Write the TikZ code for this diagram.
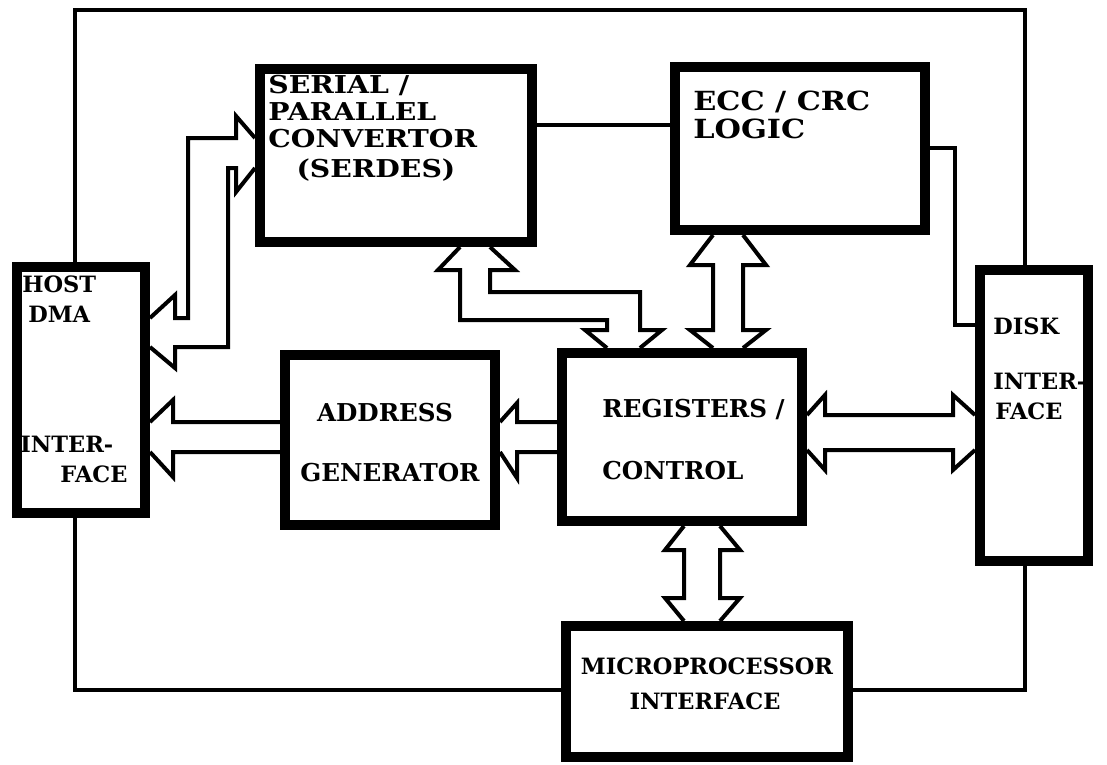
\documentclass[tikz,border=0pt]{standalone}
\usepackage{fontspec}
\setmainfont{DejaVu Serif}
\newfontfamily\wideserif{DejaVu Serif}[FakeStretch=1.15]

\begin{document}
\begin{tikzpicture}[x=0.02cm, y=-0.02cm,
  box/.style={draw, line width=0.2cm, inner sep=0pt},
  wire/.style={line width=0.08cm},
  bus/.style={line width=0.08cm},
  txt/.style={inner sep=0pt, anchor=base west},
  txtS/.style={txt, font=\bfseries\fontsize{12.8}{14}\selectfont},
  txtM/.style={txt, font=\bfseries\fontsize{14}{16}\selectfont},
  txtW/.style={txt, font=\wideserif\bfseries\fontsize{14}{16}\selectfont}]
\useasboundingbox (0,0) rectangle (1107,765);

\node[box, minimum width=2.56cm, minimum height=4.92cm] (host) at (81,390) {};
\node[box, minimum width=5.44cm, minimum height=3.46cm] (serdes) at (396,155.5) {};
\node[box, minimum width=5.00cm, minimum height=3.26cm] (ecc) at (800,148.5) {};
\node[box, minimum width=4.20cm, minimum height=3.40cm] (addr) at (390,440) {};
\node[box, minimum width=4.80cm, minimum height=3.36cm] (reg) at (682,437) {};
\node[box, minimum width=2.16cm, minimum height=5.82cm] (disk) at (1034,415.5) {};
\node[box, minimum width=5.64cm, minimum height=2.62cm] (micro) at (707,691.5) {};

\node[txtS] (host1) at (22,292) {HOST};
\node[txtS] (host2) at (28,322) {DMA};
\node[txtS] (host3) at (20,452) {INTER-};
\node[txtS] (host4) at (60,482) {FACE};
\node[txtW] (serdes1) at (268,93) {SERIAL /};
\node[txtW] (serdes2) at (268,120) {PARALLEL};
\node[txtW] (serdes3) at (268,147) {CONVERTOR};
\node[txtW, anchor=base] (serdes4) at (376,177) {(SERDES)};
\node[txtW, font=\wideserif\bfseries\fontsize{15}{17}\selectfont] (ecc1) at (693,110) {ECC / CRC};
\node[txtW, font=\wideserif\bfseries\fontsize{15}{17}\selectfont] (ecc2) at (693,138) {LOGIC};
\node[txtM, anchor=base] (addr1) at (385,421) {ADDRESS};
\node[txtM, anchor=base] (addr2) at (390,481) {GENERATOR};
\node[txtM] (reg1) at (602,417) {REGISTERS /};
\node[txtM] (reg2) at (602,479) {CONTROL};
\node[txtS] (disk1) at (993,334) {DISK};
\node[txtS] (disk2) at (993,389) {INTER-};
\node[txtS] (disk3) at (995,419) {FACE};
\node[txtS, anchor=base] (micro1) at (707,674) {MICROPROCESSOR};
\node[txtS, anchor=base] (micro2) at (705,709) {INTERFACE};

\draw[wire] (host.north -| 75,0) |- (1025,10) -- (disk.north -| 1025,0);
\draw[wire] (host.south -| 75,0) |- (micro.west |- 0,690);
\draw[wire] (micro.east |- 0,690) -| (disk.south -| 1025,0);
\draw[wire] (serdes.east |- 0,125) -- (ecc.west |- 0,125);
\draw[wire] (ecc.east |- 0,148) -| (955,325) -- (disk.west |- 0,325);

\draw[bus] (serdes.west |- 0,138) -- (236,116) -- (236,138) -- (188,138) -- (188,318) -- (175,318) -- (175,295) -- (host.east |- 0,318);
\draw[bus] (serdes.west |- 0,168) -- (236,192) -- (236,168) -- (228,168) -- (228,347) -- (175,347) -- (175,368) -- (host.east |- 0,347);

\draw[bus] (serdes.south -| 460,0) -- (438,270) -- (460,270) -- (460,320) -- (607,320) -- (607,330) -- (585,330) -- (reg.north -| 607,0);
\draw[bus] (serdes.south -| 490,0) -- (515,270) -- (490,270) -- (490,292) -- (640,292) -- (640,330) -- (662,330) -- (reg.north -| 640,0);

\draw[bus] (ecc.south -| 713,0) -- (690,265) -- (713,265) -- (713,330) -- (690,330) -- (reg.north -| 713,0);
\draw[bus] (ecc.south -| 743,0) -- (766,265) -- (743,265) -- (743,330) -- (766,330) -- (reg.north -| 743,0);

\draw[bus] (reg.west |- 0,422) -- (517,422) -- (517,403) -- (addr.east |- 0,422);
\draw[bus] (reg.west |- 0,452) -- (517,452) -- (517,478) -- (addr.east |- 0,452);

\draw[bus] (addr.west |- 0,422) -- (173,422) -- (173,400) -- (host.east |- 0,422);
\draw[bus] (addr.west |- 0,452) -- (173,452) -- (173,477) -- (host.east |- 0,452);

\draw[bus] (reg.east |- 0,415) -- (825,395) -- (825,415) -- (953,415) -- (953,395) -- (disk.west |- 0,415);
\draw[bus] (reg.east |- 0,450) -- (825,470) -- (825,450) -- (953,450) -- (953,470) -- (disk.west |- 0,450);

\draw[bus] (reg.south -| 684,0) -- (665,550) -- (684,550) -- (684,598) -- (665,598) -- (micro.north -| 684,0);
\draw[bus] (reg.south -| 720,0) -- (740,550) -- (720,550) -- (720,598) -- (740,598) -- (micro.north -| 720,0);
\end{tikzpicture}
\end{document}
